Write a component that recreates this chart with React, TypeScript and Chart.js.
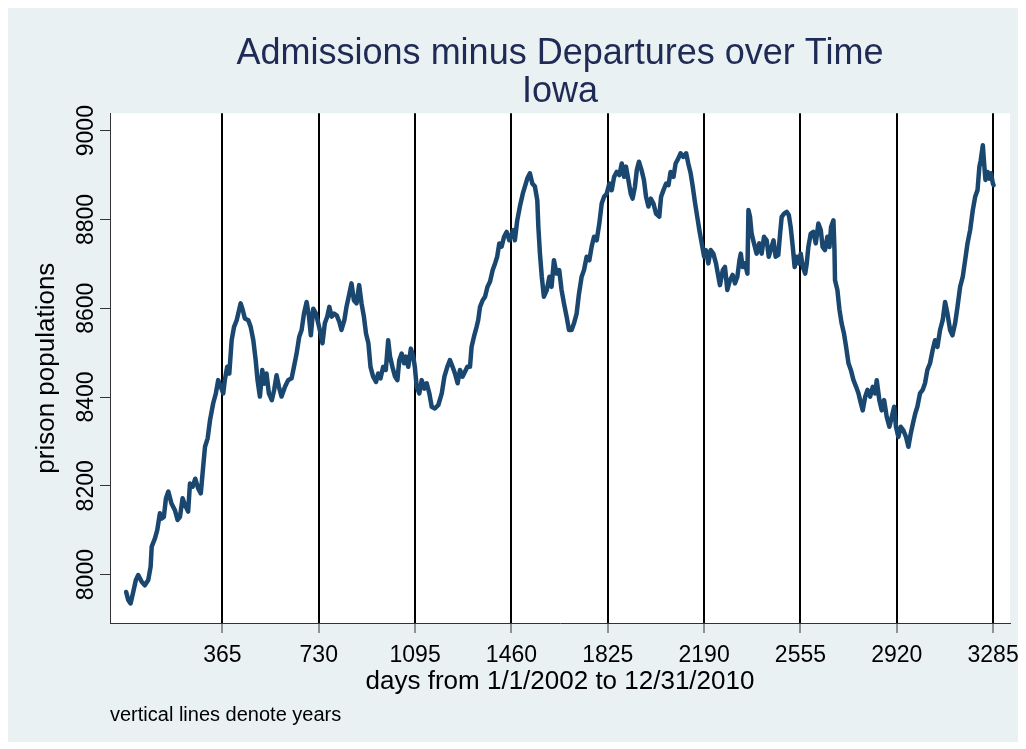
import React, { useEffect, useRef } from 'react';
import { Chart, registerables } from 'chart.js';

Chart.register(...registerables);

// ---- data ----
const titleLines = ['Admissions minus Departures over Time', 'Iowa'];
const xAxisTitle = 'days from 1/1/2002 to 12/31/2010';
const yAxisTitle = 'prison populations';
const noteText = 'vertical lines denote years';

const xTickValues = [365, 730, 1095, 1460, 1825, 2190, 2555, 2920, 3285];
const yTickValues = [8000, 8200, 8400, 8600, 8800, 9000];

const days = [
  0, 8, 17, 27, 37, 46, 59, 71, 84, 93, 97, 109, 118, 128, 134, 143, 151, 160, 172, 185,
  195, 204, 214, 223, 235, 242, 252, 262, 273, 283, 292, 299, 309, 318, 330, 340, 349, 359, 368, 374,
  383, 391, 400, 409, 419, 425, 434, 442, 450, 463, 472, 482, 491, 498, 507, 516, 523, 532, 541, 552,
  561, 570, 579, 589, 602, 614, 627, 636, 646, 656, 665, 674, 684, 693, 700, 709, 719, 728, 737, 744,
  753, 762, 770, 779, 788, 798, 808, 816, 827, 835, 846, 854, 863, 873, 883, 892, 901, 909, 918, 926,
  936, 947, 955, 964, 974, 984, 993, 1000, 1009, 1019, 1028, 1035, 1044, 1053, 1060, 1069, 1079, 1088, 1094, 1101,
  1111, 1120, 1130, 1139, 1149, 1158, 1170, 1183, 1196, 1206, 1217, 1227, 1237, 1246, 1256, 1265, 1275, 1284, 1293, 1303,
  1309, 1318, 1328, 1334, 1341, 1351, 1360, 1369, 1379, 1389, 1398, 1406, 1414, 1423, 1432, 1442, 1452, 1467, 1473, 1482,
  1492, 1503, 1511, 1520, 1530, 1539, 1549, 1558, 1562, 1568, 1575, 1583, 1594, 1604, 1612, 1621, 1631, 1641, 1650, 1659,
  1669, 1678, 1688, 1697, 1707, 1716, 1726, 1735, 1745, 1755, 1764, 1773, 1783, 1793, 1802, 1811, 1821, 1831, 1840, 1849,
  1859, 1869, 1878, 1887, 1894, 1903, 1912, 1919, 1928, 1935, 1943, 1953, 1962, 1970, 1979, 1988, 1998, 2008, 2020, 2027,
  2036, 2046, 2055, 2063, 2074, 2082, 2092, 2101, 2111, 2122, 2130, 2139, 2147, 2156, 2164, 2172, 2181, 2190, 2197, 2206,
  2215, 2225, 2235, 2244, 2250, 2261, 2269, 2278, 2288, 2298, 2307, 2316, 2324, 2329, 2336, 2345, 2354, 2358, 2364, 2370,
  2379, 2389, 2399, 2408, 2417, 2427, 2435, 2442, 2453, 2461, 2471, 2478, 2484, 2493, 2503, 2511, 2518, 2526, 2533, 2541,
  2549, 2556, 2564, 2573, 2579, 2585, 2594, 2604, 2613, 2623, 2632, 2639, 2648, 2657, 2665, 2671, 2680, 2684, 2686, 2695,
  2703, 2711, 2720, 2728, 2737, 2746, 2756, 2766, 2775, 2781, 2791, 2800, 2809, 2819, 2829, 2838, 2844, 2854, 2863, 2872,
  2882, 2892, 2901, 2910, 2917, 2926, 2935, 2945, 2955, 2964, 2973, 2981, 2990, 2998, 3008, 3018, 3027, 3036, 3046, 3056,
  3065, 3074, 3084, 3094, 3103, 3112, 3122, 3131, 3141, 3150, 3160, 3170, 3179, 3188, 3198, 3208, 3217, 3226, 3233, 3238,
  3246, 3251, 3256, 3264, 3271, 3277, 3284, 3287,
];

const population = [
  7961, 7943, 7935, 7961, 7988, 7999, 7984, 7976, 7988, 8018, 8063, 8081, 8100, 8138, 8126, 8130, 8172, 8187, 8160, 8145,
  8123, 8130, 8172, 8157, 8142, 8205, 8198, 8216, 8194, 8183, 8243, 8288, 8307, 8348, 8386, 8408, 8438, 8423, 8408, 8438,
  8468, 8453, 8528, 8558, 8573, 8588, 8611, 8596, 8577, 8573, 8558, 8528, 8483, 8438, 8401, 8461, 8430, 8453, 8408, 8393,
  8416, 8449, 8423, 8401, 8423, 8438, 8442, 8468, 8498, 8536, 8551, 8588, 8614, 8581, 8539, 8599, 8588, 8566, 8543, 8521,
  8566, 8581, 8603, 8581, 8588, 8584, 8569, 8551, 8573, 8603, 8633, 8656, 8618, 8611, 8652, 8611, 8581, 8543, 8521, 8468,
  8446, 8434, 8453, 8442, 8468, 8461, 8528, 8491, 8468, 8446, 8438, 8483, 8498, 8476, 8491, 8468, 8509, 8491, 8468, 8423,
  8408, 8438, 8419, 8431, 8408, 8378, 8374, 8382, 8408, 8446, 8468, 8483, 8468, 8453, 8431, 8461, 8446, 8457, 8468, 8468,
  8513, 8536, 8558, 8573, 8603, 8618, 8626, 8648, 8660, 8686, 8701, 8716, 8746, 8739, 8761, 8772, 8753, 8776, 8753, 8798,
  8829, 8858, 8874, 8892, 8904, 8881, 8874, 8843, 8783, 8723, 8671, 8626, 8641, 8671, 8648, 8708, 8678, 8686, 8641, 8611,
  8581, 8551, 8551, 8566, 8588, 8633, 8671, 8686, 8716, 8708, 8739, 8761, 8753, 8791, 8836, 8851, 8858, 8881, 8866, 8896,
  8907, 8900, 8926, 8896, 8919, 8889, 8858, 8847, 8874, 8911, 8930, 8911, 8889, 8851, 8829, 8847, 8836, 8813, 8806, 8851,
  8866, 8881, 8877, 8907, 8896, 8926, 8937, 8949, 8941, 8949, 8926, 8904, 8874, 8836, 8806, 8776, 8746, 8716, 8731, 8701,
  8731, 8723, 8701, 8671, 8652, 8686, 8693, 8641, 8663, 8675, 8656, 8671, 8708, 8723, 8693, 8701, 8678, 8821, 8806, 8768,
  8746, 8723, 8746, 8723, 8761, 8753, 8716, 8731, 8753, 8716, 8720, 8768, 8806, 8813, 8817, 8810, 8783, 8738, 8693, 8716,
  8701, 8723, 8693, 8678, 8701, 8738, 8768, 8772, 8746, 8791, 8776, 8738, 8731, 8761, 8738, 8783, 8798, 8731, 8663, 8641,
  8596, 8566, 8543, 8513, 8476, 8461, 8438, 8423, 8408, 8393, 8370, 8400, 8416, 8401, 8423, 8408, 8438, 8393, 8370, 8393,
  8355, 8333, 8355, 8378, 8333, 8310, 8333, 8325, 8310, 8288, 8318, 8340, 8363, 8378, 8408, 8416, 8431, 8461, 8476, 8506,
  8528, 8513, 8551, 8573, 8614, 8588, 8551, 8539, 8566, 8603, 8648, 8671, 8708, 8746, 8776, 8821, 8851, 8866, 8919, 8933,
  8967, 8926, 8889, 8907, 8892, 8904, 8881, 8877,
];

const FONT = "'Liberation Sans', Arial, Helvetica, sans-serif";
const BG = '#E9F1F3';
const LINE = '#1A476F';
const AXIS = '#333333';

const backgroundPlugin = {
  id: 'stataBackground',
  beforeDraw(chart: any) {
    const { ctx, chartArea } = chart;
    ctx.save();
    ctx.fillStyle = BG;
    ctx.fillRect(0, 0, 1012, 734);
    ctx.fillStyle = '#FFFFFF';
    ctx.fillRect(chartArea.left, chartArea.top, chartArea.right - chartArea.left, chartArea.bottom - chartArea.top);
    ctx.restore();
  },
};

export default function App() {
  const ref = useRef<HTMLCanvasElement>(null);

  useEffect(() => {
    if (!ref.current) return;
    const chart = new Chart(ref.current, {
      type: 'line',
      data: {
        datasets: [
          {
            label: yAxisTitle,
            data: days.map((d, i) => ({ x: d, y: population[i] })),
            borderColor: LINE,
            backgroundColor: LINE,
            borderWidth: 4.5,
            pointRadius: 0,
            tension: 0,
            borderJoinStyle: 'round',
            borderCapStyle: 'round',
          },
        ],
      },
      options: {
        animation: false,
        responsive: false,
        devicePixelRatio: 1,
        layout: { padding: { left: 0, right: 16, top: 0, bottom: 0 } },
        plugins: {
          legend: { display: false },
          tooltip: { enabled: false },
          title: {
            display: true,
            text: titleLines,
            fullSize: false,
            color: '#1F2A55',
            font: { family: FONT, size: 36, weight: 'normal', lineHeight: 1.06 },
            padding: { top: 27, bottom: 2 },
          },
          subtitle: {
            display: true,
            position: 'bottom',
            align: 'start',
            fullSize: false,
            text: noteText,
            color: '#000000',
            font: { family: FONT, size: 20, weight: 'normal', lineHeight: 1.2 },
            padding: { top: 0, bottom: 22 },
          },
        },
        scales: {
          x: {
            type: 'linear',
            min: -61,
            max: 3349,
            afterBuildTicks: (s: any) => {
              s.ticks = xTickValues.map((v) => ({ value: v }));
            },
            afterFit: (s: any) => {
              s.height = 80;
              s.paddingLeft = 0;
              s.paddingRight = 0;
            },
            ticks: {
              autoSkip: false,
              minRotation: 0,
              maxRotation: 0,
              padding: 9,
              color: '#000000',
              font: { family: FONT, size: 23 },
              callback: (v: any) => String(v),
            },
            grid: {
              display: true,
              drawOnChartArea: true,
              drawTicks: true,
              color: '#000000',
              lineWidth: 2,
              tickLength: 10,
              tickColor: AXIS,
              tickWidth: 1,
            },
            border: { display: true, color: AXIS, width: 1 },
            title: {
              display: true,
              text: xAxisTitle,
              color: '#000000',
              font: { family: FONT, size: 26 },
              padding: { top: 0, bottom: 6 },
            },
          },
          y: {
            type: 'linear',
            min: 7891,
            max: 9039,
            afterBuildTicks: (s: any) => {
              s.ticks = yTickValues.map((v) => ({ value: v }));
            },
            afterFit: (s: any) => {
              s.width = 102;
              s.paddingTop = 0;
              s.paddingBottom = 0;
            },
            ticks: {
              autoSkip: false,
              minRotation: 90,
              maxRotation: 90,
              crossAlign: 'center',
              padding: -12.6,
              color: '#000000',
              font: { family: FONT, size: 23 },
              callback: (v: any) => String(v),
            },
            grid: {
              display: true,
              drawOnChartArea: false,
              drawTicks: true,
              tickLength: 10,
              tickColor: AXIS,
              tickWidth: 1,
            },
            border: { display: true, color: AXIS, width: 1 },
            title: {
              display: true,
              text: yAxisTitle,
              color: '#000000',
              font: { family: FONT, size: 26 },
              padding: { top: 23, bottom: 0 },
            },
          },
        },
      } as any,
      plugins: [backgroundPlugin],
    });
    return () => chart.destroy();
  }, []);

  return (
    <div style={{ width: 1018, height: 741 }}>
      <canvas ref={ref} width={1018} height={741} style={{ display: 'block' }} />
    </div>
  );
}
